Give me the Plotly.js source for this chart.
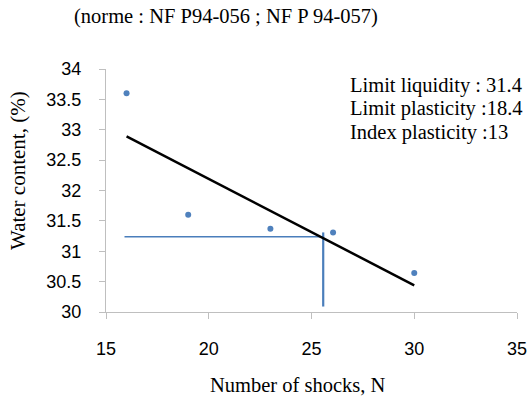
<!DOCTYPE html>
<html>
<head>
<meta charset="utf-8">
<script src="https://cdn.plot.ly/plotly-3.0.1.min.js"></script>
<style>html,body{margin:0;padding:0;background:#fff;}#chart{width:530px;height:400px;}</style>
</head>
<body>
<div id="chart"></div>
<script>
// Data
const shocks = [16, 19, 23, 26.05, 30];
const waterContent = [33.6, 31.6, 31.37, 31.31, 30.64];
const trendX = [16, 30];
const trendY = [32.89, 30.44];
const hLineX = [15.9, 25.57];
const hLineY = [31.24, 31.24];
const vLineX = [25.57, 25.57];
const vLineY = [31.31, 30.09];
const xTicks = [15, 20, 25, 30, 35];
const yTicks = [30, 30.5, 31, 31.5, 32, 32.5, 33, 33.5, 34];
const titleText = "(norme : NF P94-056 ; NF P 94-057)";
const xTitle = "Number of shocks, N";
const yTitle = "Water content, (%)";
const infoLines = ["Limit liquidity : 31.4", "Limit plasticity :18.4", "Index plasticity :13"];

const serif = "Liberation Serif, Times New Roman, serif";
const sans = "Liberation Sans, Arial, sans-serif";
const blue = "#4a7ebb";

const traces = [
  {x: hLineX, y: hLineY, mode: "lines", line: {color: blue, width: 1.5}, hoverinfo: "skip"},
  {x: vLineX, y: vLineY, mode: "lines", line: {color: blue, width: 2.2}, hoverinfo: "skip"},
  {x: trendX, y: trendY, mode: "lines", line: {color: "#000000", width: 2.5}},
  {x: shocks, y: waterContent, mode: "markers", marker: {color: "#4f81bd", size: 6}}
];

const annotations = [
  {text: titleText, xref: "paper", yref: "paper", x: (226 - 106) / 411, y: 1 + (69 - 16) / 243, xanchor: "center", yanchor: "middle", showarrow: false, font: {family: serif, size: 20.5, color: "#000"}},
  {text: xTitle, xref: "paper", yref: "paper", x: (298 - 106) / 411, y: -(385 - 312) / 243, xanchor: "center", yanchor: "middle", showarrow: false, font: {family: serif, size: 20.5, color: "#000"}},
  {text: yTitle, xref: "paper", yref: "paper", x: -(106 - 18) / 411, y: (312 - 171) / 243, xanchor: "center", yanchor: "middle", textangle: -90, showarrow: false, font: {family: serif, size: 21, color: "#000"}}
];
const lineYs = [85, 108.5, 132];
infoLines.forEach((t, i) => {
  annotations.push({text: t, xref: "paper", yref: "paper", x: (348 - 106) / 411, y: (312 - lineYs[i]) / 243, xanchor: "left", yanchor: "middle", showarrow: false, font: {family: serif, size: 20.5, color: "#000"}});
});

const layout = {
  width: 530, height: 400,
  margin: {l: 106, r: 13, t: 69, b: 88, pad: 0},
  paper_bgcolor: "#fff", plot_bgcolor: "#fff",
  showlegend: false,
  font: {family: sans, size: 18, color: "#000"},
  xaxis: {
    range: [15, 35], tickvals: xTicks, ticktext: xTicks.map(String),
    showgrid: false, zeroline: false, showline: true, linecolor: "#bfbfbf", linewidth: 1,
    ticks: "outside", ticklen: 6, tickcolor: "#bfbfbf", ticklabelstandoff: 14,
    tickfont: {family: sans, size: 18, color: "#000"}
  },
  yaxis: {
    range: [30, 34], tickvals: yTicks, ticktext: yTicks.map(String),
    showgrid: false, zeroline: false, showline: true, linecolor: "#bfbfbf", linewidth: 1,
    ticks: "outside", ticklen: 6, tickcolor: "#bfbfbf", ticklabelstandoff: 14,
    tickfont: {family: sans, size: 18, color: "#000"}
  },
  annotations: annotations
};

Plotly.newPlot("chart", traces, layout, {displayModeBar: false, staticPlot: true});
</script>
</body>
</html>
